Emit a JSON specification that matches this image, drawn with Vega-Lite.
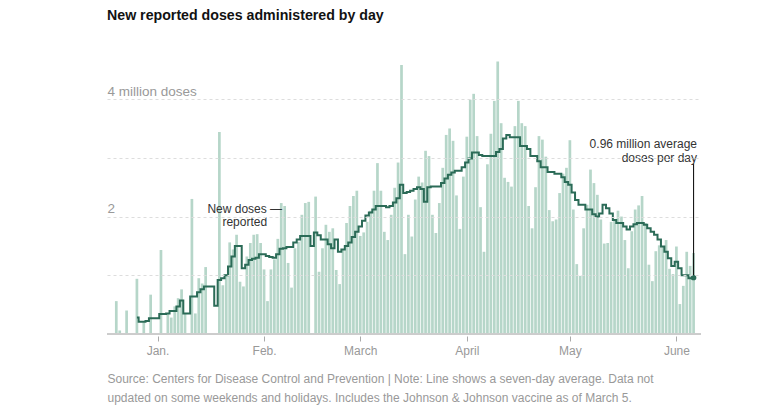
{
  "$schema": "https://vega.github.io/schema/vega-lite/v6.json",
  "width": 594,
  "height": 276,
  "autosize": {"type": "none"},
  "padding": {"left": 107, "top": 58, "right": 66, "bottom": 84},
  "background": "white",
  "title": {"text": "New reported doses administered by day", "anchor": "start", "frame": "group", "font": "Liberation Sans", "fontSize": 14.2, "fontWeight": "bold", "color": "#121212", "baseline": "alphabetic", "offset": 24},
  "config": {"view": {"stroke": null}, "font": "Liberation Sans"},
  "datasets": {
    "doses": [
      {"date":"2020-12-20","doses":0.56},
      {"date":"2020-12-21","doses":0.06},
      {"date":"2020-12-23","doses":0.40},
      {"date":"2020-12-26","doses":0.94,"avg":0.28},
      {"date":"2020-12-27","avg":0.21},
      {"date":"2020-12-28","doses":0.20,"avg":0.21},
      {"date":"2020-12-29","avg":0.22},
      {"date":"2020-12-30","doses":0.67,"avg":0.27},
      {"date":"2020-12-31","avg":0.27},
      {"date":"2021-01-01","avg":0.27},
      {"date":"2021-01-02","doses":1.43,"avg":0.34},
      {"date":"2021-01-03","avg":0.34},
      {"date":"2021-01-04","doses":0.35,"avg":0.35},
      {"date":"2021-01-05","doses":0.28,"avg":0.39},
      {"date":"2021-01-06","doses":0.47,"avg":0.39},
      {"date":"2021-01-07","doses":0.61,"avg":0.47},
      {"date":"2021-01-08","doses":0.76,"avg":0.57},
      {"date":"2021-01-09","doses":0.35,"avg":0.35},
      {"date":"2021-01-10","avg":0.35},
      {"date":"2021-01-11","doses":2.30,"avg":0.64},
      {"date":"2021-01-12","doses":0.35,"avg":0.64},
      {"date":"2021-01-13","doses":0.95,"avg":0.71},
      {"date":"2021-01-14","doses":0.86,"avg":0.76},
      {"date":"2021-01-15","doses":1.14,"avg":0.81},
      {"date":"2021-01-16","avg":0.81},
      {"date":"2021-01-17","avg":0.81},
      {"date":"2021-01-18","avg":0.48},
      {"date":"2021-01-19","doses":3.44,"avg":0.92},
      {"date":"2021-01-20","doses":0.83,"avg":0.95},
      {"date":"2021-01-21","doses":1.02,"avg":1.00},
      {"date":"2021-01-22","doses":1.56,"avg":1.15},
      {"date":"2021-01-23","doses":1.44,"avg":1.32},
      {"date":"2021-01-24","doses":1.69,"avg":1.50},
      {"date":"2021-01-25","doses":0.89,"avg":1.50},
      {"date":"2021-01-26","doses":0.81,"avg":1.12},
      {"date":"2021-01-27","doses":1.32,"avg":1.18},
      {"date":"2021-01-28","doses":1.55,"avg":1.26},
      {"date":"2021-01-29","doses":1.69,"avg":1.28},
      {"date":"2021-01-30","doses":1.70,"avg":1.30},
      {"date":"2021-01-31","doses":1.55,"avg":1.36},
      {"date":"2021-02-01","doses":1.10,"avg":1.36},
      {"date":"2021-02-02","doses":0.56,"avg":1.33},
      {"date":"2021-02-03","doses":1.10,"avg":1.31},
      {"date":"2021-02-04","doses":1.27,"avg":1.30},
      {"date":"2021-02-05","doses":1.62,"avg":1.36},
      {"date":"2021-02-06","doses":2.23,"avg":1.45},
      {"date":"2021-02-07","doses":2.18,"avg":1.46},
      {"date":"2021-02-08","doses":1.21,"avg":1.48},
      {"date":"2021-02-09","doses":0.79,"avg":1.48},
      {"date":"2021-02-10","doses":1.46,"avg":1.56},
      {"date":"2021-02-11","doses":1.57,"avg":1.61},
      {"date":"2021-02-12","doses":2.03,"avg":1.67},
      {"date":"2021-02-13","doses":2.23,"avg":1.67},
      {"date":"2021-02-14","doses":2.25,"avg":1.67},
      {"date":"2021-02-15","avg":1.50},
      {"date":"2021-02-16","doses":2.34,"avg":1.73},
      {"date":"2021-02-17","doses":1.06,"avg":1.68},
      {"date":"2021-02-18","doses":1.46,"avg":1.61},
      {"date":"2021-02-19","doses":1.86,"avg":1.61},
      {"date":"2021-02-20","doses":1.74,"avg":1.53},
      {"date":"2021-02-21","doses":1.80,"avg":1.46},
      {"date":"2021-02-22","doses":1.09,"avg":1.61},
      {"date":"2021-02-23","doses":0.85,"avg":1.40},
      {"date":"2021-02-24","doses":1.43,"avg":1.44},
      {"date":"2021-02-25","doses":1.89,"avg":1.50},
      {"date":"2021-02-26","doses":2.18,"avg":1.56},
      {"date":"2021-02-27","doses":2.35,"avg":1.65},
      {"date":"2021-02-28","doses":2.44,"avg":1.74},
      {"date":"2021-03-01","doses":1.67,"avg":1.83},
      {"date":"2021-03-02","doses":1.73,"avg":1.93},
      {"date":"2021-03-03","doses":1.91,"avg":2.02},
      {"date":"2021-03-04","doses":2.10,"avg":2.07},
      {"date":"2021-03-05","doses":2.44,"avg":2.12},
      {"date":"2021-03-06","doses":2.91,"avg":2.18},
      {"date":"2021-03-07","doses":2.44,"avg":2.18},
      {"date":"2021-03-08","doses":1.74,"avg":2.18},
      {"date":"2021-03-09","doses":1.60,"avg":2.16},
      {"date":"2021-03-10","doses":2.03,"avg":2.18},
      {"date":"2021-03-11","doses":2.49,"avg":2.24},
      {"date":"2021-03-12","doses":2.92,"avg":2.31},
      {"date":"2021-03-13","doses":4.58,"avg":2.54},
      {"date":"2021-03-14","doses":1.36,"avg":2.40},
      {"date":"2021-03-15","doses":2.03,"avg":2.42},
      {"date":"2021-03-16","doses":1.66,"avg":2.44},
      {"date":"2021-03-17","doses":2.29,"avg":2.47},
      {"date":"2021-03-18","doses":2.68,"avg":2.50},
      {"date":"2021-03-19","doses":2.58,"avg":2.47},
      {"date":"2021-03-20","doses":3.12,"avg":2.25},
      {"date":"2021-03-21","doses":3.03,"avg":2.50},
      {"date":"2021-03-22","doses":2.03,"avg":2.51},
      {"date":"2021-03-23","doses":1.72,"avg":2.51},
      {"date":"2021-03-24","doses":2.23,"avg":2.51},
      {"date":"2021-03-25","doses":2.83,"avg":2.57},
      {"date":"2021-03-26","doses":3.39,"avg":2.65},
      {"date":"2021-03-27","doses":3.50,"avg":2.71},
      {"date":"2021-03-28","doses":3.29,"avg":2.75},
      {"date":"2021-03-29","doses":2.36,"avg":2.78},
      {"date":"2021-03-30","doses":1.79,"avg":2.78},
      {"date":"2021-03-31","doses":2.68,"avg":2.84},
      {"date":"2021-04-01","doses":3.36,"avg":2.92},
      {"date":"2021-04-02","doses":3.99,"avg":2.99},
      {"date":"2021-04-03","doses":4.09,"avg":3.09},
      {"date":"2021-04-04","doses":3.37,"avg":3.09},
      {"date":"2021-04-05","doses":2.16,"avg":3.05},
      {"date":"2021-04-06","doses":1.40,"avg":3.03},
      {"date":"2021-04-07","doses":2.89,"avg":3.03},
      {"date":"2021-04-08","doses":3.41,"avg":3.03},
      {"date":"2021-04-09","doses":3.97,"avg":3.03},
      {"date":"2021-04-10","doses":4.64,"avg":3.10},
      {"date":"2021-04-11","doses":3.59,"avg":3.15},
      {"date":"2021-04-12","doses":2.66,"avg":3.33},
      {"date":"2021-04-13","doses":2.59,"avg":3.39},
      {"date":"2021-04-14","doses":2.51,"avg":3.35},
      {"date":"2021-04-15","doses":3.54,"avg":3.35},
      {"date":"2021-04-16","doses":3.97,"avg":3.35},
      {"date":"2021-04-17","doses":3.59,"avg":3.20},
      {"date":"2021-04-18","doses":3.54,"avg":3.20},
      {"date":"2021-04-19","doses":2.18,"avg":3.15},
      {"date":"2021-04-20","doses":1.80,"avg":3.03},
      {"date":"2021-04-21","doses":2.50,"avg":3.03},
      {"date":"2021-04-22","doses":3.37,"avg":2.94},
      {"date":"2021-04-23","doses":3.31,"avg":2.84},
      {"date":"2021-04-24","doses":3.02,"avg":2.84},
      {"date":"2021-04-25","doses":2.11,"avg":2.76},
      {"date":"2021-04-26","doses":1.92,"avg":2.76},
      {"date":"2021-04-27","doses":1.95,"avg":2.73},
      {"date":"2021-04-28","doses":2.40,"avg":2.73},
      {"date":"2021-04-29","doses":2.73,"avg":2.67},
      {"date":"2021-04-30","doses":2.83,"avg":2.59},
      {"date":"2021-05-01","doses":3.30,"avg":2.54},
      {"date":"2021-05-02","doses":2.12,"avg":2.41},
      {"date":"2021-05-03","doses":1.19,"avg":2.28},
      {"date":"2021-05-04","doses":0.99,"avg":2.20},
      {"date":"2021-05-05","doses":1.80,"avg":2.20},
      {"date":"2021-05-06","doses":2.20,"avg":2.12},
      {"date":"2021-05-07","doses":2.80,"avg":2.12},
      {"date":"2021-05-08","doses":2.57,"avg":2.04},
      {"date":"2021-05-09","doses":2.37,"avg":2.00},
      {"date":"2021-05-10","doses":1.95,"avg":2.05},
      {"date":"2021-05-11","doses":1.54,"avg":2.20},
      {"date":"2021-05-12","doses":1.55,"avg":2.14},
      {"date":"2021-05-13","doses":1.91,"avg":2.05},
      {"date":"2021-05-14","doses":1.95,"avg":1.94},
      {"date":"2021-05-15","doses":2.10,"avg":1.89},
      {"date":"2021-05-16","doses":2.00,"avg":1.89},
      {"date":"2021-05-17","doses":1.60,"avg":1.83},
      {"date":"2021-05-18","doses":1.12,"avg":1.78},
      {"date":"2021-05-19","doses":1.75,"avg":1.83},
      {"date":"2021-05-20","doses":2.12,"avg":1.87},
      {"date":"2021-05-21","doses":2.19,"avg":1.89},
      {"date":"2021-05-22","doses":2.35,"avg":1.89},
      {"date":"2021-05-23","doses":1.89,"avg":1.86},
      {"date":"2021-05-24","doses":1.18,"avg":1.80},
      {"date":"2021-05-25","doses":0.90,"avg":1.74},
      {"date":"2021-05-26","doses":1.41,"avg":1.69},
      {"date":"2021-05-27","doses":1.51,"avg":1.61},
      {"date":"2021-05-28","doses":1.49,"avg":1.49},
      {"date":"2021-05-29","doses":1.60,"avg":1.40},
      {"date":"2021-05-30","doses":1.11,"avg":1.29},
      {"date":"2021-05-31","doses":1.02,"avg":1.16},
      {"date":"2021-06-01","doses":1.49,"avg":1.23},
      {"date":"2021-06-02","doses":0.51,"avg":1.12},
      {"date":"2021-06-03","doses":0.82,"avg":1.00},
      {"date":"2021-06-04","doses":1.40,"avg":1.00},
      {"date":"2021-06-05","doses":1.16,"avg":0.95},
      {"date":"2021-06-06","doses":1.38,"avg":0.96}
    ],
    "leader": [{"date": "2021-06-06", "value": 0.96, "top": 2.90}],
    "noteLeft": [{"date": "2021-01-26T09:00:00Z", "value": 2.06, "label": "New doses —\nreported"}],
    "noteRight": [{"date": "2021-06-07", "value": 3.17, "label": "0.96 million average\ndoses per day"}]
  },
  "encoding": {
    "x": {
      "field": "date",
      "type": "temporal",
      "scale": {"type": "utc", "domain": [1608314400000, 1622998080000]},
      "axis": {
        "values": [
          {"year": 2021, "month": 1, "date": 1, "utc": true},
          {"year": 2021, "month": 2, "date": 1, "utc": true},
          {"year": 2021, "month": 3, "date": 1, "utc": true},
          {"year": 2021, "month": 4, "date": 1, "utc": true},
          {"year": 2021, "month": 5, "date": 1, "utc": true},
          {"year": 2021, "month": 6, "date": 1, "utc": true}
        ],
        "labelExpr": "['Jan.','Feb.','March','April','May','June'][utcmonth(datum.value)]",
        "domain": false,
        "grid": false,
        "offset": 2,
        "tickSize": 5,
        "tickColor": "#aaaaaa",
        "labelColor": "#999999",
        "labelFontSize": 12,
        "labelPadding": 4,
        "title": ["Source: Centers for Disease Control and Prevention | Note: Line shows a seven-day average. Data not", "updated on some weekends and holidays. Includes the Johnson & Johnson vaccine as of March 5."],
        "titleX": 0,
        "titleY": 46,
        "titleAlign": "left",
        "titleAnchor": "start",
        "titleBaseline": "alphabetic",
        "titleFontSize": 12,
        "titleFontWeight": "normal",
        "titleColor": "#999999",
        "titleLineHeight": 19
      }
    }
  },
  "layer": [
    {
      "data": {"name": "doses"},
      "mark": {"type": "bar", "color": "#b6d6c9", "width": 2.7},
      "encoding": {
        "y": {
          "field": "doses",
          "type": "quantitative",
          "scale": {"domain": [0, 4.7], "nice": false},
          "axis": {
            "values": [1, 2, 3, 4],
            "labelExpr": "datum.value == 4 ? '4 million doses' : (datum.value == 2 ? '2' : '')",
            "grid": true,
            "gridColor": "#dddddd",
            "gridDash": [3, 3],
            "domain": false,
            "ticks": false,
            "tickSize": 0,
            "labelPadding": 0,
            "labelAlign": "left",
            "labelBaseline": "alphabetic",
            "labelOffset": -4,
            "labelColor": "#999999",
            "labelFontSize": 13.5,
            "title": null,
            "zindex": 1
          }
        }
      }
    },
    {
      "data": {"name": "doses"},
      "mark": {"type": "rule", "color": "#cccccc", "strokeWidth": 1},
      "encoding": {"x": null, "y": {"datum": 0, "type": "quantitative", "scale": {"domain": [0, 4.7], "nice": false}}}
    },
    {
      "data": {"name": "doses"},
      "mark": {"type": "line", "interpolate": "step", "color": "#2b6b57", "strokeWidth": 2},
      "encoding": {"y": {"field": "avg", "type": "quantitative", "scale": {"domain": [0, 4.7], "nice": false}}}
    },
    {
      "data": {"name": "leader"},
      "mark": {"type": "rule", "color": "#000000", "strokeWidth": 1},
      "encoding": {
        "y": {"field": "value", "type": "quantitative", "scale": {"domain": [0, 4.7], "nice": false}},
        "y2": {"field": "top"}
      }
    },
    {
      "data": {"name": "leader"},
      "mark": {"type": "point", "filled": true, "color": "#2b6b57", "size": 30, "opacity": 1},
      "encoding": {"y": {"field": "value", "type": "quantitative", "scale": {"domain": [0, 4.7], "nice": false}}}
    },
    {
      "data": {"name": "noteLeft"},
      "mark": {"type": "text", "align": "center", "baseline": "alphabetic", "lineBreak": "\n", "lineHeight": 13, "fontSize": 12, "color": "#333333"},
      "encoding": {
        "y": {"field": "value", "type": "quantitative", "scale": {"domain": [0, 4.7], "nice": false}},
        "text": {"field": "label"}
      }
    },
    {
      "data": {"name": "noteRight"},
      "mark": {"type": "text", "align": "right", "baseline": "alphabetic", "lineBreak": "\n", "lineHeight": 14, "fontSize": 12, "color": "#333333"},
      "encoding": {
        "y": {"field": "value", "type": "quantitative", "scale": {"domain": [0, 4.7], "nice": false}},
        "text": {"field": "label"}
      }
    }
  ]
}
